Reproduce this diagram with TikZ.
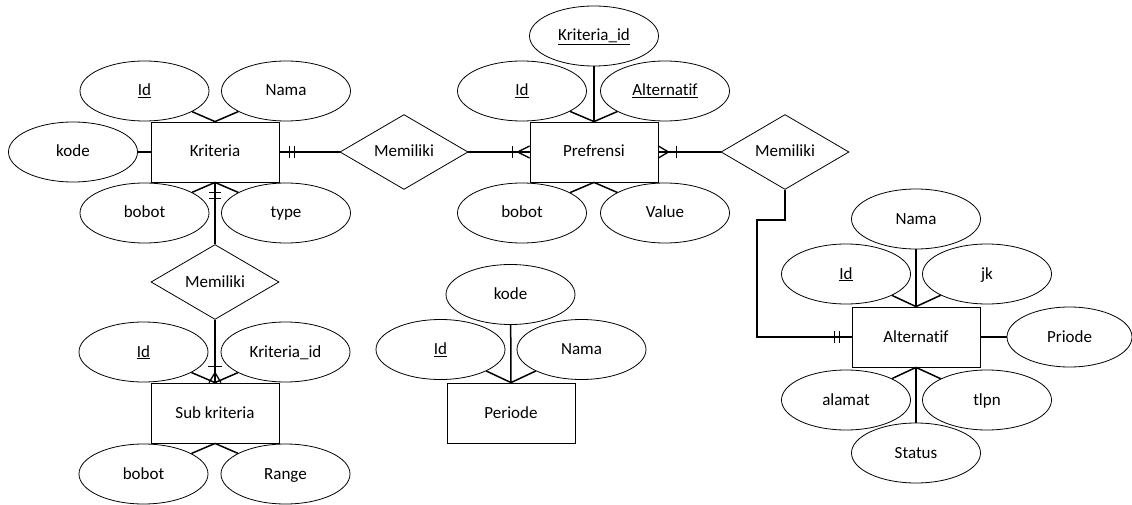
\documentclass[tikz,border=0pt]{standalone}
\usepackage{fontspec}
\setmainfont{Carlito}[Ligatures={NoCommon}]
\usetikzlibrary{shapes.geometric,calc}
\begin{document}
\begin{tikzpicture}[x=1pt,y=-1pt,
  every node/.style={font=\fontsize{17}{20}\selectfont, text height=12.5pt, text depth=2.5pt},
  ent/.style={draw, line width=0.8pt, minimum width=128pt, minimum height=60pt, inner sep=0pt},
  attr/.style={draw, ellipse, line width=0.8pt, minimum width=129pt, minimum height=60pt, inner sep=0pt},
  rel/.style={draw, diamond, line width=0.8pt, minimum width=128pt, minimum height=60pt, inner sep=0pt},
  conn/.style={line width=1.5pt},
  crowmark/.style={line width=1.3pt}]
\useasboundingbox (0,0) rectangle (1132,505);
% ---------- Kriteria ----------
\node[ent]  (kr)   at (215,152) {Kriteria};
\node[attr] (krid) at (144.5,91) {\underline{Id}};
\node[attr] (krnm) at (286,91) {Nama};
\node[attr] (krkd) at (73,152) {kode};
\node[attr] (krbb) at (144.5,213) {bobot};
\node[attr] (krty) at (286,213) {type};
\draw[conn] (krid) -- (kr.north);
\draw[conn] (krnm) -- (kr.north);
\draw[conn] (krkd) -- (kr.west);
\draw[conn] (krbb) -- (kr.south);
\draw[conn] (krty) -- (kr.south);
% ---------- Memiliki 1 ----------
\node[rel] (m1) at (404,152) {Memiliki};
% ---------- Prefrensi ----------
\node[ent]  (pr)   at (594,152) {Prefrensi};
\node[attr] (prkid) at (594,36) {\underline{Kriteria\_id}};
\node[attr] (prid) at (522,91) {\underline{Id}};
\node[attr] (pral) at (665,91) {\underline{Alternatif}};
\node[attr] (prbb) at (522,213) {bobot};
\node[attr] (prvl) at (665,213) {Value};
\draw[conn] (prkid) -- (pr.north);
\draw[conn] (prid) -- (pr.north);
\draw[conn] (pral) -- (pr.north);
\draw[conn] (prbb) -- (pr.south);
\draw[conn] (prvl) -- (pr.south);
% ---------- Memiliki 2 ----------
\node[rel] (m2) at (785,152) {Memiliki};
% ---------- Memiliki 3 ----------
\node[rel] (m3) at (215,282) {Memiliki};
% ---------- Sub kriteria ----------
\node[ent]  (sk)   at (215,413) {Sub kriteria};
\node[attr] (skid) at (143.5,352) {\underline{Id}};
\node[attr] (skkid) at (285.5,352) {Kriteria\_id};
\node[attr] (skbb) at (143.5,474) {bobot};
\node[attr] (skrg) at (285.5,474) {Range};
\draw[conn] (skid) -- (sk.north);
\draw[conn] (skkid) -- (sk.north);
\draw[conn] (skbb) -- (sk.south);
\draw[conn] (skrg) -- (sk.south);
% ---------- Periode ----------
\node[ent]  (pe)   at (511,413) {Periode};
\node[attr] (pekd) at (510.5,294.5) {kode};
\node[attr] (peid) at (440.5,349.5) {\underline{Id}};
\node[attr] (penm) at (581.5,349.5) {Nama};
\draw[conn] (pekd) -- (pe.north);
\draw[conn] (peid) -- (pe.north);
\draw[conn] (penm) -- (pe.north);
% ---------- Alternatif ----------
\node[ent]  (al)   at (916,337) {Alternatif};
\node[attr] (alnm) at (916,219) {Nama};
\node[attr] (alid) at (846,274) {\underline{Id}};
\node[attr] (aljk) at (987,274) {jk};
\node[attr, minimum width=125pt] (alpr) at (1069.5,337) {Priode};
\node[attr] (alal) at (846,400) {alamat};
\node[attr] (altl) at (987,400) {tlpn};
\node[attr] (alst) at (916,453) {Status};
\draw[conn] (alnm) -- (al.north);
\draw[conn] (alid) -- (al.north);
\draw[conn] (aljk) -- (al.north);
\draw[conn] (alpr) -- (al.east);
\draw[conn] (alal) -- (al.south);
\draw[conn] (altl) -- (al.south);
\draw[conn] (alst) -- (al.south);
% ---------- Relationships ----------
% Kriteria -- Memiliki 1 (one and only one)
\draw[conn] (kr.east) -- (m1.west);
\draw[crowmark] ($(kr.east)+(10,-6)$) -- ++(0,12);
\draw[crowmark] ($(kr.east)+(15,-6)$) -- ++(0,12);
% Memiliki 1 -- Prefrensi (one or many)
\draw[conn] (m1.east) -- (pr.west);
\draw[crowmark] ($(pr.west)+(-17,-6)$) -- ++(0,12);
\draw[crowmark] ($(pr.west)+(0,-6)$) -- ($(pr.west)+(-12,0)$) -- ($(pr.west)+(0,6)$);
% Prefrensi -- Memiliki 2 (one or many)
\draw[conn] (pr.east) -- (m2.west);
\draw[crowmark] ($(pr.east)+(18,-6)$) -- ++(0,12);
\draw[crowmark] ($(pr.east)+(0,-6)$) -- ($(pr.east)+(10,0)$) -- ($(pr.east)+(0,6)$);
% Memiliki 2 -- Alternatif (one and only one)
\coordinate (bend) at (757,220);
\draw[conn] (m2.south) |- (bend) |- (al.west);
\draw[crowmark] ($(al.west)+(-17,-6)$) -- ++(0,12);
\draw[crowmark] ($(al.west)+(-12,-6)$) -- ++(0,12);
% Kriteria -- Memiliki 3 (one and only one)
\draw[conn] (kr.south) -- (m3.north);
\draw[crowmark] ($(kr.south)+(-6,10)$) -- ++(12,0);
\draw[crowmark] ($(kr.south)+(-6,16)$) -- ++(12,0);
% Memiliki 3 -- Sub kriteria (one or many)
\draw[conn] (m3.south) -- (sk.north);
\draw[crowmark] ($(sk.north)+(-7,-16)$) -- ++(14,0);
\draw[crowmark] ($(sk.north)+(-6,0)$) -- ($(sk.north)+(0,-10)$) -- ($(sk.north)+(6,0)$);
\end{tikzpicture}
\end{document}
